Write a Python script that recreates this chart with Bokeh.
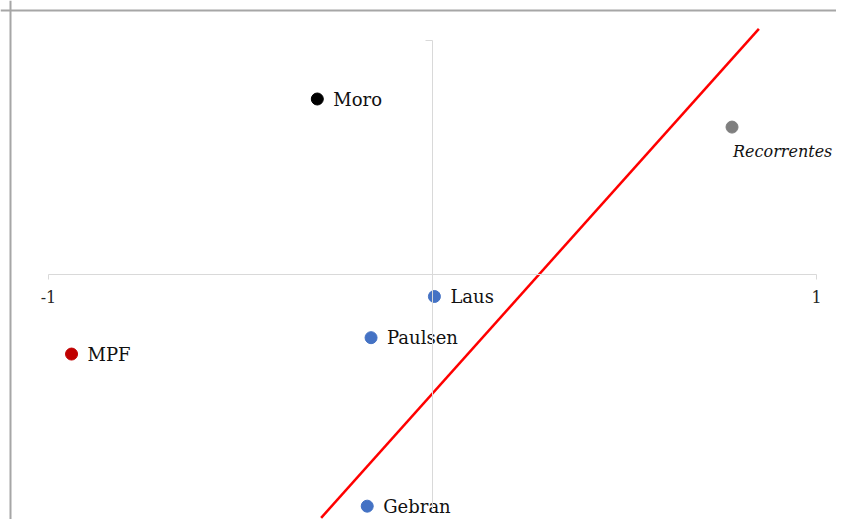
from bokeh.plotting import figure
from bokeh.models import ColumnDataSource, LinearAxis, FixedTicker, Span
from bokeh.core.properties import value
from bokeh.embed import file_html
from bokeh.resources import INLINE

# ---- data ----
names = ["Moro", "Laus", "Paulsen", "MPF", "Gebran"]
xs = [-0.30, 0.005, -0.16, -0.94, -0.17]
ys = [0.75, -0.094, -0.27, -0.34, -0.99]
colors = ["#000000", "#4472C4", "#4472C4", "#C00000", "#4472C4"]

rec_name = ["Recorrentes"]
rec_x = [0.78]
rec_y = [0.63]
rec_color = ["#7F7F7F"]

trend_x = [-0.29, 0.85]
trend_y = [-1.04, 1.05]

x_ticks = [-1, 1]
x_tick_labels = {-1: "-1", 1: "1"}

W, H = 836, 519
XPX, YPX = 384.0, 234.0        # px per unit
x0 = -1 - 48 / XPX
x1 = x0 + W / XPX
y1 = 274 / YPX
y0 = y1 - H / YPX

p = figure(width=W, height=H, x_range=(x0, x1), y_range=(y0, y1),
           output_backend="svg", toolbar_location=None,
           x_axis_location=None, y_axis_location=None, min_border=0)
p.grid.visible = False
p.outline_line_color = None
p.background_fill_color = "white"
p.border_fill_color = "white"

# chart border (top and left)
p.add_layout(Span(location=y1 - 10 / YPX, dimension="width", line_color="#A6A6A6", line_width=2))
p.add_layout(Span(location=x0 + 10 / XPX, dimension="height", line_color="#A6A6A6", line_width=2))

# axes
xa = LinearAxis(fixed_location=0, bounds=(-1, 1), ticker=FixedTicker(ticks=x_ticks),
                major_label_overrides=x_tick_labels)
xa.axis_line_color = "#D9D9D9"
xa.major_tick_line_color = "#D9D9D9"
xa.major_tick_out = 5
xa.major_tick_in = 0
xa.minor_tick_line_color = None
xa.major_label_standoff = 11
xa.major_label_text_font = "DejaVu Serif"
xa.major_label_text_font_size = "16px"
xa.major_label_text_color = "#262626"
p.add_layout(xa, "below")

ya = LinearAxis(fixed_location=0, bounds=(-1, 1), ticker=FixedTicker(ticks=[1]))
ya.axis_line_color = "#D9D9D9"
ya.major_tick_line_color = "#D9D9D9"
ya.major_tick_out = 7
ya.major_tick_in = 0
ya.minor_tick_line_color = None
ya.major_label_text_font_size = "0px"
ya.major_label_text_color = None
p.add_layout(ya, "left")

# trend line
p.line(trend_x, trend_y, line_color="#FF0000", line_width=2.5)

src = ColumnDataSource(dict(x=xs, y=ys, name=names, color=colors))
p.scatter("x", "y", source=src, size=12, fill_color="color", line_color="color")
p.text("x", "y", text="name", source=src, x_offset=16, text_baseline="middle",
       text_font=value("DejaVu Serif"), text_font_size="18px", text_color="#111111")

rsrc = ColumnDataSource(dict(x=rec_x, y=rec_y, name=rec_name, color=rec_color))
p.scatter("x", "y", source=rsrc, size=12, fill_color="color", line_color="color")
p.text("x", "y", text="name", source=rsrc, x_offset=1, y_offset=24, text_baseline="middle",
       text_font=value("DejaVu Serif"), text_font_style="italic", text_font_size="16px",
       text_color="#111111")

open("out.html", "w").write(file_html(p, INLINE))
